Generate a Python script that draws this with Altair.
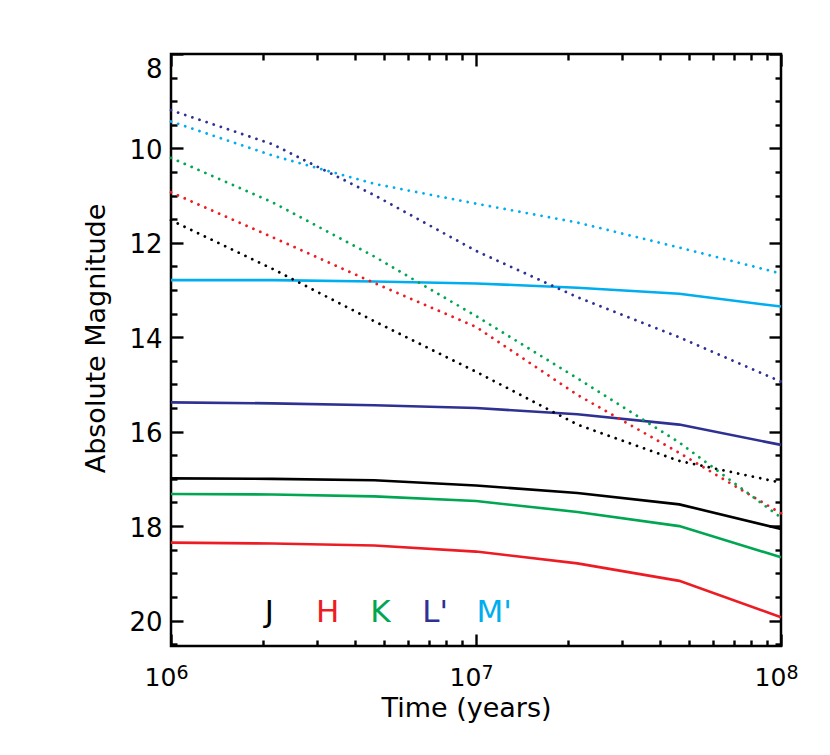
import altair as alt
import pandas as pd

# ---- data ----
ages = [1e6, 2.15e6, 4.64e6, 1e7, 2.15e7, 4.64e7, 1e8]
bands = ["J", "H", "K", "L'", "M'"]
band_colors = ["#000000", "#ED1C24", "#00A651", "#2E3192", "#00AEEF"]

solid_J = [16.99, 17.00, 17.03, 17.14, 17.30, 17.54, 18.06]
solid_H = [18.35, 18.37, 18.41, 18.54, 18.79, 19.16, 19.93]
solid_K = [17.32, 17.33, 17.37, 17.47, 17.70, 18.00, 18.66]
solid_L = [15.38, 15.40, 15.44, 15.50, 15.63, 15.85, 16.28]
solid_M = [12.79, 12.79, 12.82, 12.86, 12.95, 13.08, 13.35]

dot_J = [11.52, 12.55, 13.66, 14.73, 15.85, 16.62, 17.08]
dot_H = [10.93, 11.88, 12.85, 13.78, 15.22, 16.45, 17.73]
dot_K = [10.20, 11.14, 12.29, 13.55, 14.87, 16.23, 17.82]
dot_L = [9.19, 9.91, 10.99, 12.17, 13.15, 14.00, 14.94]
dot_M = [9.43, 10.15, 10.75, 11.17, 11.57, 12.10, 12.65]

# band-label annotation (x in years, y in magnitudes)
label_x = [2.1e6, 3.26e6, 4.86e6, 7.34e6, 1.146e7]
label_y = [20.03, 20.03, 20.03, 20.03, 20.03]

x_major = [1e6, 1e7, 1e8]
x_major_base = "10"
x_major_exponents = ["6", "7", "8"]
x_minor = [2e6, 3e6, 4e6, 5e6, 6e6, 7e6, 8e6, 9e6,
           2e7, 3e7, 4e7, 5e7, 6e7, 7e7, 8e7, 9e7]
y_major = [8, 10, 12, 14, 16, 18, 20]
y_minor = [8.5, 9, 9.5, 10.5, 11, 11.5, 12.5, 13, 13.5, 14.5, 15, 15.5,
           16.5, 17, 17.5, 18.5, 19, 19.5, 20.5]

solid = [solid_J, solid_H, solid_K, solid_L, solid_M]
dotted = [dot_J, dot_H, dot_K, dot_L, dot_M]

rows = []
for b, s, d in zip(bands, solid, dotted):
    for a, vs, vd in zip(ages, s, d):
        rows.append({"age": a, "band": b, "solid": vs, "dotted": vd})
df = pd.DataFrame(rows)
lab = pd.DataFrame({"band": bands, "x": label_x, "y": label_y})

FONT = "DejaVu Sans"
xscale = alt.Scale(type="log", domain=[1e6, 1e8], nice=False)
yscale = alt.Scale(domain=[8, 20.54], reverse=True, nice=False, zero=False)
cscale = alt.Scale(domain=bands, range=band_colors)

exp_expr = " : ".join(
    f"datum.value == {v:.0f} ? '{t}'" for v, t in zip(x_major[:-1], x_major_exponents[:-1])
) + f" : '{x_major_exponents[-1]}'"

ax_bottom_major = alt.Axis(orient="bottom", values=x_major, tickSize=12, offset=-12,
                           domain=False, grid=False, labelExpr=f"'{x_major_base}'",
                           labelFontSize=25, labelPadding=19, labelFont=FONT,
                           labelFlush=False, labelOffset=-11,
                           title="Time (years)", titleFontSize=27, titleFont=FONT,
                           titleFontWeight="normal", titlePadding=5, titleX=295)
ax_bottom_exp = alt.Axis(orient="bottom", values=x_major, ticks=False, offset=0,
                         domain=False, grid=False, labelExpr=exp_expr,
                         labelFontSize=19, labelPadding=17, labelFont=FONT,
                         labelFlush=False, labelOffset=11, title=None)
ax_bottom_minor = alt.Axis(orient="bottom", values=x_minor, tickSize=6, offset=-6,
                           domain=False, grid=False, labels=False, title=None)
ax_top_major = alt.Axis(orient="top", values=x_major, tickSize=12, offset=-12,
                        domain=False, grid=False, labels=False, title=None)
ax_top_minor = alt.Axis(orient="top", values=x_minor, tickSize=6, offset=-6,
                        domain=False, grid=False, labels=False, title=None)
ax_left_major = alt.Axis(orient="left", values=y_major, tickSize=12, offset=-12,
                         domain=False, grid=False, labelFontSize=26, labelPadding=9,
                         labelFont=FONT, labelOffset=2, labelFlush=True,
                         labelFlushOffset=0,
                         title="Absolute Magnitude", titleFontSize=27,
                         titleFont=FONT, titleFontWeight="normal", titlePadding=18,
                         titleY=284)
ax_left_minor = alt.Axis(orient="left", values=y_minor, tickSize=6, offset=-6,
                         domain=False, grid=False, labels=False, title=None)
ax_right_major = alt.Axis(orient="right", values=y_major, tickSize=12, offset=-12,
                          domain=False, grid=False, labels=False, title=None)
ax_right_minor = alt.Axis(orient="right", values=y_minor, tickSize=6, offset=-6,
                          domain=False, grid=False, labels=False, title=None)

base = alt.Chart(df)

solid_layer = base.mark_line(strokeWidth=2.6).encode(
    x=alt.X("age:Q", scale=xscale, axis=ax_bottom_major),
    y=alt.Y("solid:Q", scale=yscale, axis=ax_left_major),
    color=alt.Color("band:N", scale=cscale, legend=None),
    detail="band:N",
)
dotted_layer = base.mark_line(strokeWidth=2.8, strokeDash=[0.01, 7.5], strokeCap="round").encode(
    x=alt.X("age:Q", scale=xscale, axis=ax_bottom_minor),
    y=alt.Y("dotted:Q", scale=yscale, axis=ax_left_minor),
    color=alt.Color("band:N", scale=cscale, legend=None),
    detail="band:N",
)
frame1 = base.mark_line(opacity=0).encode(
    x=alt.X("age:Q", scale=xscale, axis=ax_top_major),
    y=alt.Y("solid:Q", scale=yscale, axis=ax_right_major),
    detail="band:N",
)
frame2 = base.mark_line(opacity=0).encode(
    x=alt.X("age:Q", scale=xscale, axis=ax_top_minor),
    y=alt.Y("solid:Q", scale=yscale, axis=ax_right_minor),
    detail="band:N",
)
frame3 = base.mark_line(opacity=0).encode(
    x=alt.X("age:Q", scale=xscale, axis=ax_bottom_exp),
    y=alt.Y("solid:Q", scale=yscale, axis=None),
    detail="band:N",
)
labels = alt.Chart(lab).mark_text(fontSize=31, font=FONT, align="center",
                                  baseline="alphabetic").encode(
    x=alt.X("x:Q", scale=xscale, axis=None),
    y=alt.Y("y:Q", scale=yscale, axis=None),
    text="band:N",
    color=alt.Color("band:N", scale=cscale, legend=None),
)

chart = alt.layer(solid_layer, dotted_layer, frame1, frame2, frame3, labels).resolve_axis(
    x="independent", y="independent"
).properties(
    width=610, height=592, autosize="none", background="white",
    padding={"left": 163, "top": 46, "right": 30, "bottom": 90},
).configure_view(
    stroke="black", strokeWidth=2.5
).configure_axis(
    tickColor="black", tickWidth=2.4, labelColor="black", titleColor="black"
)

chart.save("out.html", embed_options={"renderer": "svg", "actions": False})
